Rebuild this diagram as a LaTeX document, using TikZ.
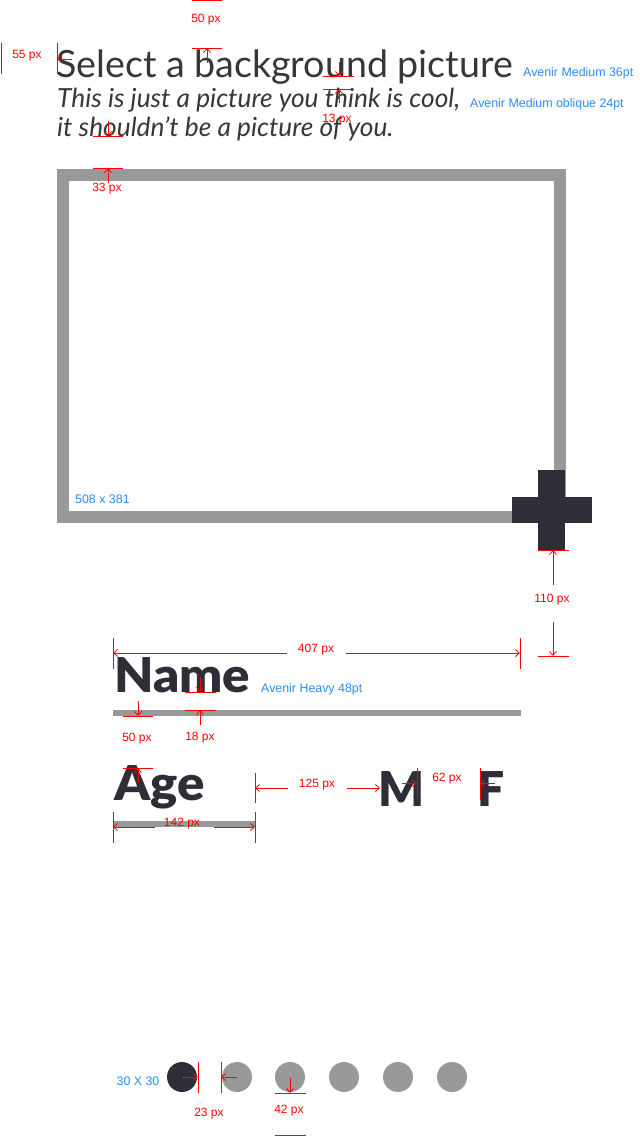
\documentclass[tikz,border=0pt]{standalone}
\usepackage{fontspec}
\setmainfont{Lato}
\newfontfamily\labelfont{Liberation Sans}
\newfontfamily\heavyfont{Lato Black}
\newfontfamily\heavywide[FakeStretch=1.06]{Lato Black}
\usetikzlibrary{arrows.meta}
\definecolor{titlec}{HTML}{3A3636}
\definecolor{darkc}{HTML}{2F2E38}
\definecolor{grayc}{HTML}{999999}
\definecolor{bluec}{HTML}{2D8CF0}
\definecolor{redc}{HTML}{FF0000}
\begin{document}
\begin{tikzpicture}[x=1pt,y=-1pt,
  dim/.style={draw=redc,line width=0.8pt},
  dimarr/.style={dim,-{Straight Barb[length=4pt,width=7pt]}},
  redlbl/.style={text=redc,font=\labelfont\fontsize{12}{14}\selectfont,inner sep=1pt},
  bluelbl/.style={text=bluec,font=\labelfont\fontsize{12.4}{14}\selectfont,inner sep=0pt,anchor=base west},
  bigtext/.style={anchor=base west,inner sep=0pt,text=darkc,font=\heavyfont\fontsize{48}{50}\selectfont},
  widetext/.style={bigtext,font=\heavywide\fontsize{48}{50}\selectfont},
  dot/.style={circle,minimum size=30pt,inner sep=0pt,fill=grayc}]
\useasboundingbox (0,0) rectangle (640,1136);
\fill[white] (0,0) rectangle (640,1136);

% header texts
\node[anchor=base west,inner sep=0pt,text=titlec,font=\fontsize{37.6}{40}\selectfont] (title) at (56,77) {Select a background picture};
\node[bluelbl] (titlespec) at (523,76) {Avenir Medium 36pt};
\node[anchor=base west,inner sep=0pt,text=titlec,font=\itshape\fontsize{26.3}{28}\selectfont] (sub1) at (57,107) {This is just a picture you think is cool,};
\node[anchor=base west,inner sep=0pt,text=titlec,font=\itshape\fontsize{26.3}{28}\selectfont] (sub2) at (57,136) {it shouldn’t be a picture of you.};
\node[bluelbl] (subspec) at (470,107) {Avenir Medium oblique 24pt};

% picture frame and add cross
\draw[grayc,line width=12pt] (63,175) rectangle (560,517);
\node[bluelbl] (framespec) at (75,503) {508 x 381};
\fill[darkc] (538,470) rectangle (565,550);
\fill[darkc] (512,497) rectangle (592,523);

% name / age fields
\node[widetext] (name) at (114,692) {Name};
\node[bluelbl] (namespec) at (261,692) {Avenir Heavy 48pt};
\fill[grayc] (113,710) rectangle (521,715.5);
\node[widetext] (age) at (114,800) {Age};
\fill[grayc] (113,821) rectangle (255,826.5);
\node[bigtext] (m) at (378,806) {M};
\node[bigtext] (f) at (477,806) {F};

% page dots
\node[dot,fill=darkc] (d1) at (182,1077) {};
\node[dot] (d2) at (237,1077) {};
\node[dot] (d3) at (290,1077) {};
\node[dot] (d4) at (344,1077) {};
\node[dot] (d5) at (398,1077) {};
\node[dot] (d6) at (452,1077) {};
\node[text=bluec,font=\labelfont\fontsize{12.4}{14}\selectfont,inner sep=0pt] (dotspec) at (138,1081) {30 X 30};

% ---- red dimension marks ----
% 50 px top
\draw[dim] (192,0.5) -- (222,0.5);
\draw[dim] (192,48) -- (222,48);
\draw[dimarr] (207,63) -- (207,48);
\node[redlbl] (l50a) at (206,20) {50 px};
% 55 px
\draw[dim] (1,43) -- (1,74);
\draw[dim] (57,43) -- (57,74);
\draw[dimarr] (72,59) -- (57,59);
\node[redlbl] (l55) at (27,56) {55 px};
% 13 px
\draw[dim] (323,76) -- (354,76);
\draw[dimarr] (339,62) -- (339,76);
\draw[dim] (323,89) -- (354,89);
\draw[dimarr] (339,103) -- (339,89);
\node[redlbl] (l13) at (337,120) {13 px};
% 33 px
\draw[dim] (93,136) -- (123,136);
\draw[dimarr] (108,121) -- (108,136);
\draw[dim] (93,168) -- (123,168);
\draw[dimarr] (108,183) -- (108,168);
\node[redlbl] (l33) at (107,189) {33 px};
% 110 px
\draw[dim] (538,550) -- (569,550);
\draw[dimarr] (553,585) -- (553,550);
\node[redlbl] (l110) at (552,600) {110 px};
\draw[dimarr] (553,622) -- (553,656);
\draw[dim] (538,656) -- (569,656);
% 407 px
\draw[dim] (113,638) -- (113,669);
\draw[dim] (520,638) -- (520,669);
\draw[dimarr] (287,653) -- (113,653);
\draw[dimarr] (346,653) -- (520,653);
\node[redlbl] (l407) at (316,650) {407 px};
% 50 px under name
\draw[dimarr] (138,701) -- (138,716);
\draw[dim] (123,716) -- (153,716);
\node[redlbl] (l50b) at (137,739) {50 px};
% 18 px
\draw[dim] (185,692) -- (216,692);
\draw[dimarr] (200,677) -- (200,692);
\draw[dim] (185,710) -- (216,710);
\draw[dimarr] (200,725) -- (200,710);
\node[redlbl] (l18) at (200,738) {18 px};
% age top
\draw[dim] (123,768) -- (153,768);
\draw[dimarr] (138,783) -- (138,768);
% 142 px
\draw[dim] (113,812) -- (113,843);
\draw[dim] (255,812) -- (255,843);
\draw[dimarr] (155,827) -- (113,827);
\draw[dimarr] (214,827) -- (255,827);
\node[redlbl] (l142) at (182,824) {142 px};
% 125 px
\draw[dim] (255,773) -- (255,803);
\draw[dimarr] (288,788) -- (255,788);
\draw[dimarr] (347,788) -- (380,788);
\node[redlbl] (l125) at (317,785) {125 px};
% 62 px
\draw[dim] (417,768) -- (417,799);
\draw[dimarr] (402,783) -- (417,783);
\draw[dim] (480,768) -- (480,800);
\draw[dimarr] (495,783) -- (480,783);
\node[redlbl] (l62) at (447,779) {62 px};
% 23 px
\draw[dim] (198,1062) -- (198,1093);
\draw[dimarr] (183,1077) -- (198,1077);
\draw[dim] (221,1062) -- (221,1093);
\draw[dimarr] (237,1077) -- (221,1077);
\node[redlbl] (l23) at (209,1114) {23 px};
% 42 px
\draw[dim] (275,1093) -- (306,1093);
\draw[dimarr] (290,1078) -- (290,1093);
\draw[dim] (275,1135) -- (306,1135);
\node[redlbl] (l42) at (289,1111) {42 px};
\end{tikzpicture}
\end{document}
